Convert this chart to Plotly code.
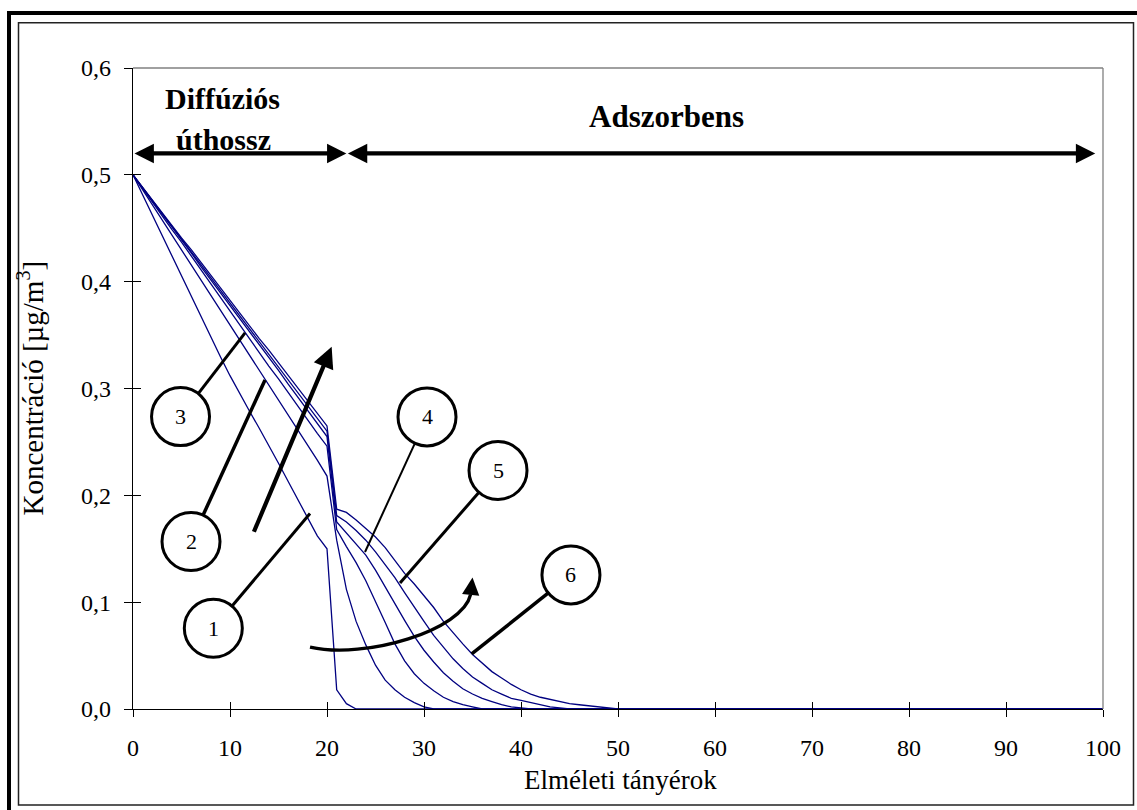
import plotly.graph_objects as go

# Theoretical plate index along the column (diffusion path 0-20, adsorbent 21-100)
PLATES = [0, 1, 2, 3, 4, 5, 6, 7, 8, 9,
          10, 11, 12, 13, 14, 15, 16, 17, 18, 19,
          20, 21, 22, 23, 24, 25, 26, 27, 28, 29,
          30, 31, 32, 33, 34, 35, 36, 37, 38, 39,
          40, 41, 42, 43, 44, 45, 46, 47, 48, 49,
          50, 100]

# Concentration profiles [ug/m3] for the six time steps
CURVE_1 = [0.500, 0.481, 0.462, 0.444, 0.425, 0.406, 0.387, 0.368, 0.349, 0.330,
           0.312, 0.295, 0.279, 0.263, 0.247, 0.230, 0.213, 0.196, 0.178, 0.162,
           0.150, 0.018, 0.005, 0.000, 0.000, 0.000, 0.000, 0.000, 0.000, 0.000,
           0.000, 0.000, 0.000, 0.000, 0.000, 0.000, 0.000, 0.000, 0.000, 0.000,
           0.000, 0.000, 0.000, 0.000, 0.000, 0.000, 0.000, 0.000, 0.000, 0.000,
           0.000, 0.000]
CURVE_2 = [0.500, 0.486, 0.472, 0.458, 0.444, 0.430, 0.416, 0.402, 0.388, 0.374,
           0.360, 0.346, 0.332, 0.318, 0.304, 0.290, 0.276, 0.262, 0.248, 0.233,
           0.218, 0.158, 0.112, 0.082, 0.060, 0.041, 0.027, 0.018, 0.011, 0.006,
           0.002, 0.000, 0.000, 0.000, 0.000, 0.000, 0.000, 0.000, 0.000, 0.000,
           0.000, 0.000, 0.000, 0.000, 0.000, 0.000, 0.000, 0.000, 0.000, 0.000,
           0.000, 0.000]
CURVE_3 = [0.500, 0.487, 0.475, 0.462, 0.449, 0.437, 0.424, 0.411, 0.398, 0.386,
           0.373, 0.360, 0.347, 0.334, 0.321, 0.309, 0.296, 0.283, 0.270, 0.258,
           0.246, 0.168, 0.152, 0.137, 0.120, 0.101, 0.081, 0.061, 0.045, 0.033,
           0.024, 0.017, 0.011, 0.007, 0.004, 0.002, 0.000, 0.000, 0.000, 0.000,
           0.000, 0.000, 0.000, 0.000, 0.000, 0.000, 0.000, 0.000, 0.000, 0.000,
           0.000, 0.000]
CURVE_4 = [0.500, 0.488, 0.476, 0.463, 0.451, 0.439, 0.427, 0.414, 0.402, 0.390,
           0.378, 0.365, 0.353, 0.341, 0.329, 0.317, 0.304, 0.292, 0.280, 0.267,
           0.255, 0.175, 0.165, 0.155, 0.144, 0.130, 0.114, 0.098, 0.083, 0.068,
           0.055, 0.044, 0.034, 0.026, 0.019, 0.014, 0.010, 0.007, 0.004, 0.002,
           0.001, 0.000, 0.000, 0.000, 0.000, 0.000, 0.000, 0.000, 0.000, 0.000,
           0.000, 0.000]
CURVE_5 = [0.500, 0.488, 0.476, 0.464, 0.452, 0.440, 0.428, 0.416, 0.404, 0.392,
           0.380, 0.368, 0.356, 0.344, 0.332, 0.320, 0.308, 0.296, 0.284, 0.272,
           0.260, 0.181, 0.175, 0.167, 0.158, 0.147, 0.135, 0.123, 0.109, 0.095,
           0.082, 0.069, 0.058, 0.047, 0.038, 0.030, 0.024, 0.018, 0.014, 0.010,
           0.008, 0.006, 0.004, 0.002, 0.001, 0.000, 0.000, 0.000, 0.000, 0.000,
           0.000, 0.000]
CURVE_6 = [0.500, 0.488, 0.477, 0.465, 0.453, 0.441, 0.430, 0.418, 0.406, 0.394,
           0.383, 0.371, 0.359, 0.347, 0.336, 0.324, 0.312, 0.300, 0.289, 0.277,
           0.265, 0.187, 0.184, 0.177, 0.169, 0.161, 0.151, 0.139, 0.127, 0.117,
           0.106, 0.095, 0.082, 0.071, 0.061, 0.051, 0.043, 0.035, 0.029, 0.023,
           0.018, 0.014, 0.011, 0.009, 0.007, 0.005, 0.004, 0.003, 0.002, 0.001,
           0.000, 0.000]
CURVES = [CURVE_1, CURVE_2, CURVE_3, CURVE_4, CURVE_5, CURVE_6]
CURVE_LABELS = ["1", "2", "3", "4", "5", "6"]

# Numbered callouts: bubble centre and the point on the profile it refers to
BUBBLE_X = [8.28, 5.98, 4.90, 30.31, 37.63, 45.15]
BUBBLE_Y = [0.0756, 0.1568, 0.2737, 0.2734, 0.2233, 0.1255]
POINTER_X = [18.25, 13.61, 11.55, 23.92, 27.53, 34.92]
POINTER_Y = [0.183, 0.308, 0.352, 0.147, 0.118, 0.0515]
POINTER_W = [3, 3.5, 3, 2, 3, 3.5]

# Zone boundaries along the column and the height of the zone arrows
ZONE_EDGES = [0, 22, 99.2]
ZONE_LEVEL = 0.52

ax_font = "Liberation Serif"
W, H = 1137, 810
ML, MR, MT, MB = 133, 34, 68, 101
PW, PH = W - ML - MR, H - MT - MB


def paper(px, py):
    return (px - ML) / PW, (H - MB - py) / PH


fig = go.Figure()
for label, vals in zip(CURVE_LABELS, CURVES):
    fig.add_trace(go.Scatter(x=PLATES, y=vals, mode="lines", name=label,
                             line=dict(color="#000080", width=1.3),
                             showlegend=False, hoverinfo="skip"))

# helper trace carrying the inner half of the crossing tick marks
fig.add_trace(go.Scatter(x=[0], y=[0], xaxis="x2", yaxis="y2", mode="markers",
                         marker=dict(opacity=0), showlegend=False, hoverinfo="skip"))

shapes = []
# outer frames of the figure
x0, y0 = paper(9, 822)
x1, y1 = paper(1145, 13)
shapes.append(dict(type="rect", xref="paper", yref="paper", x0=x0, y0=y0, x1=x1, y1=y1,
                   line=dict(color="black", width=4), layer="below"))
x0, y0 = paper(18.5, 805)
x1, y1 = paper(1133.5, 22.7)
shapes.append(dict(type="rect", xref="paper", yref="paper", x0=x0, y0=y0, x1=x1, y1=y1,
                   line=dict(color="#222222", width=1.5), layer="below"))
# grey top/right edges of the plot area
shapes.append(dict(type="line", xref="paper", yref="paper", x0=0, y0=1, x1=1, y1=1,
                   line=dict(color="#808080", width=1.3)))
shapes.append(dict(type="line", xref="paper", yref="paper", x0=1, y0=0, x1=1, y1=1,
                   line=dict(color="#808080", width=1.3)))

# callout pointers, then bubbles on top of them
for bx, by, tx, ty, w in zip(BUBBLE_X, BUBBLE_Y, POINTER_X, POINTER_Y, POINTER_W):
    shapes.append(dict(type="line", xref="x", yref="y", x0=bx, y0=by, x1=tx, y1=ty,
                       line=dict(color="black", width=w)))
for bx, by in zip(BUBBLE_X, BUBBLE_Y):
    shapes.append(dict(type="circle", xref="x", yref="y", xsizemode="pixel", ysizemode="pixel",
                       xanchor=bx, yanchor=by, x0=-29, x1=29, y0=-29, y1=29,
                       fillcolor="white", line=dict(color="black", width=3)))

# curved arrow showing the front moving into the adsorbent
shapes.append(dict(type="path", xref="x", yref="y",
                   path="M 18.25,0.058 C 24,0.046 34,0.074 34.8,0.107",
                   line=dict(color="black", width=3.3)))

annotations = []
for lab, bx, by in zip(CURVE_LABELS, BUBBLE_X, BUBBLE_Y):
    annotations.append(dict(x=bx, y=by, xref="x", yref="y", text=lab, showarrow=False,
                            xanchor="center", yanchor="middle",
                            font=dict(family=ax_font, size=22, color="black")))

# double-headed zone arrows
for a, b in zip(ZONE_EDGES[:-1], ZONE_EDGES[1:]):
    annotations.append(dict(x=b, y=ZONE_LEVEL, ax=a, ay=ZONE_LEVEL, xref="x", yref="y",
                            axref="x", ayref="y", text="", showarrow=True,
                            arrowside="end+start", arrowhead=2, startarrowhead=2,
                            arrowsize=0.9, startarrowsize=0.9, arrowwidth=4.3,
                            arrowcolor="black", standoff=0, startstandoff=0))

# straight arrow across the diffusion profiles
annotations.append(dict(x=20.48, y=0.339, ax=12.40, ay=0.1645, xref="x", yref="y",
                        axref="x", ayref="y", text="", showarrow=True, arrowhead=2,
                        arrowsize=1.0, arrowwidth=4.2, arrowcolor="black", standoff=0))
# head of the curved arrow
annotations.append(dict(x=35.0, y=0.123, ax=34.8, ay=0.106, xref="x", yref="y",
                        axref="x", ayref="y", text="", showarrow=True, arrowhead=2,
                        arrowsize=1.05, arrowwidth=3.3, arrowcolor="black", standoff=0))

# zone captions
annotations.append(dict(x=9.18, y=0.571, xref="x", yref="y", text="<b>Diffúziós</b>",
                        showarrow=False, xanchor="center", yanchor="middle",
                        font=dict(family=ax_font, size=30, color="black")))
annotations.append(dict(x=9.33, y=0.533, xref="x", yref="y", text="<b>úthossz</b>",
                        showarrow=False, xanchor="center", yanchor="middle",
                        font=dict(family=ax_font, size=30, color="black")))
annotations.append(dict(x=55.05, y=0.555, xref="x", yref="y", text="<b>Adszorbens</b>",
                        showarrow=False, xanchor="center", yanchor="middle",
                        font=dict(family=ax_font, size=31, color="black")))

# axis titles
tx, ty = paper(620, 780)
annotations.append(dict(x=tx, y=ty, xref="paper", yref="paper", text="Elméleti tányérok",
                        showarrow=False, xanchor="center", yanchor="middle",
                        font=dict(family=ax_font, size=27, color="black")))
tx, ty = paper(30, 388.5)
annotations.append(dict(x=tx, y=ty, xref="paper", yref="paper",
                        text="Koncentráció [µg/m<sup>3</sup>]", textangle=-90,
                        showarrow=False, xanchor="center", yanchor="middle",
                        font=dict(family=ax_font, size=29, color="black")))

fig.update_layout(
    width=W, height=H,
    margin=dict(l=ML, r=MR, t=MT, b=MB, pad=0),
    paper_bgcolor="white", plot_bgcolor="white",
    separators=",.",
    shapes=shapes, annotations=annotations,
    xaxis=dict(range=[0, 100], tick0=0, dtick=10, ticks="outside", ticklen=7,
               tickwidth=1, tickcolor="black", showline=True, linecolor="black",
               linewidth=1.2, showgrid=False, zeroline=False, layer="below traces",
               tickfont=dict(family=ax_font, size=24, color="black"),
               ticklabelstandoff=10),
    yaxis=dict(range=[0, 0.6], tick0=0, dtick=0.1, tickformat=".1f", ticks="outside",
               ticklen=8, tickwidth=1, tickcolor="black", showline=True, linecolor="black",
               linewidth=1.2, showgrid=False, zeroline=False, layer="below traces",
               tickfont=dict(family=ax_font, size=24, color="black"),
               ticklabelstandoff=8),
    xaxis2=dict(range=[0, 100], tick0=0, dtick=10, ticks="inside", ticklen=7,
                tickwidth=1, tickcolor="black", overlaying="x", anchor="y2", side="bottom",
                showticklabels=False, showline=False, showgrid=False, zeroline=False),
    yaxis2=dict(range=[0, 0.6], tick0=0, dtick=0.1, ticks="inside", ticklen=8,
                tickwidth=1, tickcolor="black", overlaying="y", anchor="x2", side="left",
                showticklabels=False, showline=False, showgrid=False, zeroline=False),
)

fig.write_html("out.html")
